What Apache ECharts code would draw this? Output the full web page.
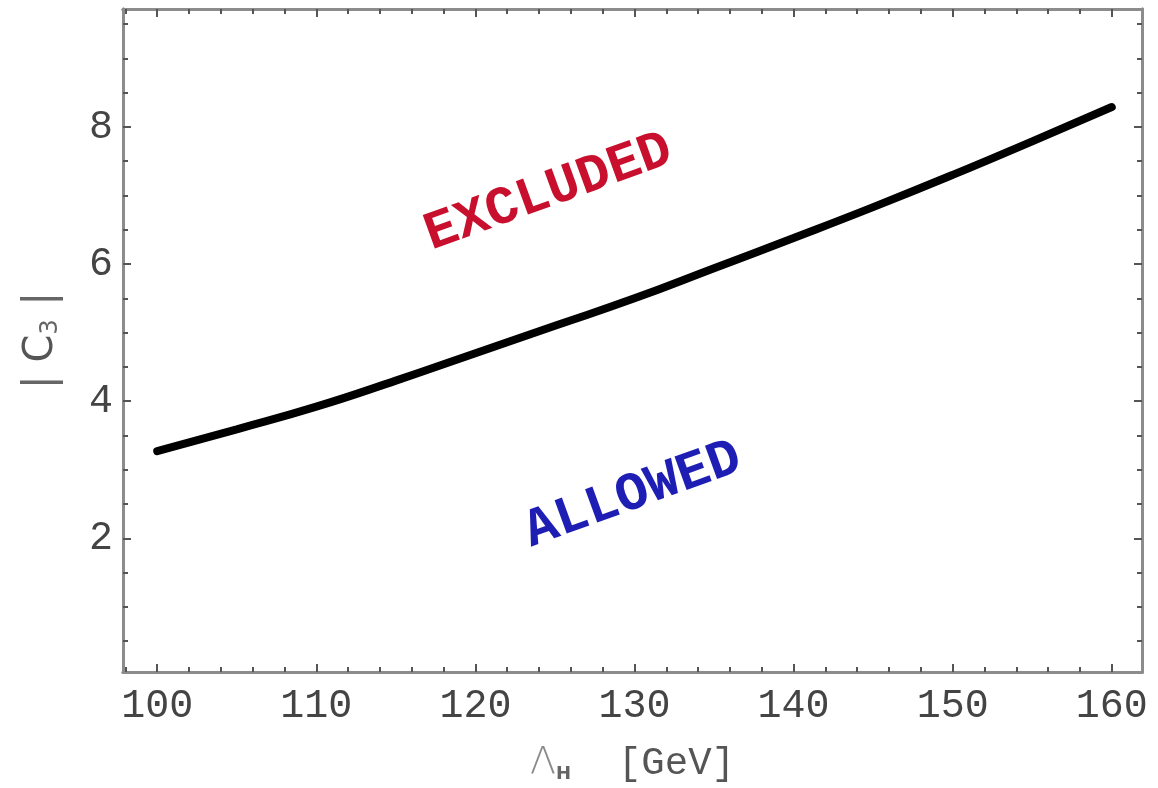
<!DOCTYPE html>
<html>
<head>
<meta charset="utf-8">
<script src="https://cdn.jsdelivr.net/npm/echarts@6/dist/echarts.min.js"></script>
<style>
html,body{margin:0;padding:0;background:#fff;}
#chart{width:1158px;height:788px;}
</style>
</head>
<body>
<div id="chart"></div>
<script>
// ---- data ----
const lambdaH = [100, 105, 110, 115, 120, 125, 130, 135, 140, 145, 150, 155, 160];
const c3Abs   = [3.27, 3.59, 3.92, 4.30, 4.70, 5.10, 5.50, 5.94, 6.38, 6.83, 7.30, 7.79, 8.29];

const xMajorTicks = [100, 110, 120, 130, 140, 150, 160];
const xMinorTicks = [98, 102, 104, 106, 108, 112, 114, 116, 118, 122, 124, 126, 128, 132, 134, 136, 138,
                     142, 144, 146, 148, 152, 154, 156, 158];
const yMajorTicks = [2, 4, 6, 8];
const yMinorTicks = [0.5, 1, 1.5, 2.5, 3, 3.5, 4.5, 5, 5.5, 6.5, 7, 7.5, 8.5, 9, 9.5];

const regionNames = ['EXCLUDED', 'ALLOWED'];
const regionX = [124.6, 129.9];
const regionY = [7.04, 2.63];
const regionColors = ['#c8102e', '#1e1eb4'];

const X_MIN = 97.85, X_MAX = 161.9;
const Y_MIN = 0.05, Y_MAX = 9.72;

const frameColor = '#8c8c8c';
const tickColor = '#555';
const monoFont = '"Liberation Mono", "DejaVu Sans Mono", monospace';

function xAx(pos, ticks, len, labels, extra) {
  return Object.assign({
    type: 'value', min: X_MIN, max: X_MAX, position: pos,
    axisLine: { show: true, lineStyle: { color: frameColor, width: 3 } },
    axisTick: { show: true, inside: true, length: len, customValues: ticks,
                lineStyle: { color: tickColor, width: 2 } },
    axisLabel: labels ? { show: true, customValues: ticks, color: '#444',
                          fontFamily: monoFont, fontSize: 40, margin: 14 } : { show: false },
    splitLine: { show: false }
  }, extra || {});
}
function yAx(pos, ticks, len, labels, extra) {
  return Object.assign({
    type: 'value', min: Y_MIN, max: Y_MAX, position: pos,
    axisLine: { show: true, lineStyle: { color: frameColor, width: 3 } },
    axisTick: { show: true, inside: true, length: len, customValues: ticks,
                lineStyle: { color: tickColor, width: 2 } },
    axisLabel: labels ? { show: true, customValues: ticks, color: '#444',
                          fontFamily: monoFont, fontSize: 40, margin: 10 } : { show: false },
    splitLine: { show: false }
  }, extra || {});
}

const chart = echarts.init(document.getElementById('chart'), null, { renderer: 'canvas' });

const option = {
  backgroundColor: '#ffffff',
  animation: false,
  grid: { left: 123, top: 9, right: 16, bottom: 115, containLabel: false },
  xAxis: [
    xAx('bottom', xMajorTicks, 8, true, {
      name: '{l|Λ}{s|H}{n|  [GeV]}',
      nameLocation: 'middle',
      nameGap: 72,
      nameTextStyle: {
        verticalAlign: 'top',
        rich: {
          l: { fontFamily: '"DejaVu Sans", sans-serif', fontSize: 38, color: '#8a8a8a', fontWeight: 'lighter' },
          s: { fontFamily: '"DejaVu Sans", sans-serif', fontSize: 18, color: '#666', fontWeight: 'bold',
               verticalAlign: 'bottom', padding: [16, 0, 0, 0] },
          n: { fontFamily: monoFont, fontSize: 39, color: '#555' }
        }
      }
    }),
    xAx('bottom', xMinorTicks, 5, false),
    xAx('top', xMajorTicks, 8, false),
    xAx('top', xMinorTicks, 5, false)
  ],
  yAxis: [
    yAx('left', yMajorTicks, 8, true, {
      name: '{b||}{c| C}{s|3}{b| |}',
      nameLocation: 'middle',
      nameRotate: 90,
      nameGap: 60,
      nameTextStyle: {
        rich: {
          b: { fontFamily: '"DejaVu Sans", sans-serif', fontSize: 42, color: '#666' },
          c: { fontFamily: '"DejaVu Sans", sans-serif', fontSize: 40, color: '#555' },
          s: { fontFamily: '"DejaVu Sans", sans-serif', fontSize: 24, color: '#666', padding: [18, 0, 0, 0] }
        }
      }
    }),
    yAx('left', yMinorTicks, 5, false),
    yAx('right', yMajorTicks, 8, false),
    yAx('right', yMinorTicks, 5, false)
  ],
  series: [
    {
      type: 'line',
      xAxisIndex: 0, yAxisIndex: 0,
      data: lambdaH.map((x, i) => [x, c3Abs[i]]),
      smooth: true,
      symbol: 'none',
      lineStyle: { color: '#000', width: 8, cap: 'round' },
      silent: true
    },
    {
      type: 'scatter',
      xAxisIndex: 0, yAxisIndex: 0,
      symbolSize: 0,
      silent: true,
      itemStyle: { opacity: 1 },
      data: regionNames.map((n, i) => ({
        value: [regionX[i], regionY[i]],
        name: n,
        label: { color: regionColors[i] }
      })),
      label: {
        show: true,
        position: 'inside',
        formatter: p => p.name,
        rotate: 20,
        align: 'center',
        verticalAlign: 'middle',
        fontFamily: monoFont,
        fontWeight: 'bold',
        fontSize: 54
      }
    }
  ]
};
chart.setOption(option);
</script>
</body>
</html>
